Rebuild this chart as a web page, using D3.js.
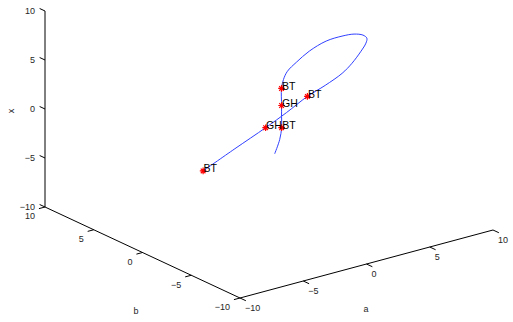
<!DOCTYPE html>
<html>
<head>
<meta charset="utf-8">
<script src="https://cdn.jsdelivr.net/npm/d3@7"></script>
<style>
  html, body { margin: 0; padding: 0; background: #fff; }
  svg { display: block; font-family: "Liberation Sans", Arial, Helvetica, sans-serif; }
</style>
</head>
<body>
<svg id="chart" width="513" height="322"></svg>
<script>
// ---- data (a, b, x coordinates of the continuation curve) ----
const curveA = [2.76, 2.77, 2.54, 2.38, 2.15, 1.76, 1.61, 1.61, 1.78, 2.26, 2.98, 3.77, 4.41, 4.96, 5.27, 5.35, 5.27, 5.02, 4.70, 4.06, 3.42, 2.54, 1.66, 0.39, -0.97];
const curveB = [3.0, 2.5, 2.0, 1.8, 1.5, 1.0, 0.6, 0.2, -0.5, -1.2, -2.0, -2.6, -3.0, -3.2, -3.2, -3.0, -2.6, -2.0, -1.4, -0.5, 0.5, 1.5, 2.5, 4.0, 5.5];
const curveX = [-5.75, -4.08, -2.54, -1.26, 0.09, 2.20, 3.36, 4.37, 5.56, 6.85, 8.00, 8.51, 8.68, 8.48, 8.06, 7.43, 6.45, 5.03, 3.83, 2.41, 1.04, -0.77, -2.47, -4.87, -7.36];

// special points
const specialLabels = ["BT", "GH", "BT", "BT", "GH", "BT"];
const specialA = [2.54, 2.15, 1.76, 3.42, 1.66, -0.97];
const specialB = [2.0, 1.5, 1.0, 0.5, 2.5, 5.5];
const specialX = [-2.54, 0.09, 2.20, 1.04, -2.47, -7.36];

// axis ticks
const aTicks = [-10, -5, 0, 5, 10];
const bTicks = [-10, -5, 0, 5, 10];
const xTicks = [-10, -5, 0, 5, 10];
const tickLabel = v => v < 0 ? "\u2212" + Math.abs(v) : String(v);

// ---- projection (orthographic view of the axes box) ----
const O = [45, 207];        // screen point of (a=-10, b=10, x=-10)
const VA = [253, -68];      // screen vector for full a range
const VB = [195, 91];       // screen vector for full b range (10 -> -10)
const VX = [0, -196];       // screen vector for full x range

const sa = d3.scaleLinear().domain([-10, 10]).range([0, 1]);
const sb = d3.scaleLinear().domain([10, -10]).range([0, 1]);
const sx = d3.scaleLinear().domain([-10, 10]).range([0, 1]);

function proj(a, b, x) {
  const u = sa(a), v = sb(b), w = sx(x);
  return [O[0] + u * VA[0] + v * VB[0] + w * VX[0],
          O[1] + u * VA[1] + v * VB[1] + w * VX[1]];
}

const svg = d3.select("#chart");
const axisColor = "#000";
const textColor = "#262626";

// ---- axes ----
const ag = svg.append("g").attr("stroke", axisColor).attr("stroke-width", 1).attr("fill", "none");
function seg(p, q) {
  ag.append("line").attr("x1", p[0]).attr("y1", p[1]).attr("x2", q[0]).attr("y2", q[1]);
}
// x (vertical) axis at a=-10, b=10
seg(proj(-10, 10, -10), proj(-10, 10, 10));
// b axis at a=-10, x=-10
seg(proj(-10, 10, -10), proj(-10, -10, -10));
// a axis at b=-10, x=-10
seg(proj(-10, -10, -10), proj(10, -10, -10));

// ticks
xTicks.forEach(t => seg(proj(-10, 10, t), proj(-10, 10.55, t)));
bTicks.forEach(t => seg(proj(-10, t, -10), proj(-10.48, t, -10)));
aTicks.forEach(t => seg(proj(t, -10, -10), proj(t, -10.6, -10)));

// tick labels
const tg = svg.append("g").attr("fill", textColor).attr("font-size", "9px");
xTicks.forEach(t => {
  const p = proj(-10, 10, t);
  tg.append("text").attr("x", p[0] - 10).attr("y", p[1] + 0.5)
    .attr("text-anchor", "end").attr("dominant-baseline", "middle").text(tickLabel(t));
});
bTicks.forEach(t => {
  const p = proj(-10, t, -10);
  tg.append("text").attr("x", p[0] - 10).attr("y", p[1] + 10)
    .attr("text-anchor", "end").attr("dominant-baseline", "middle").text(tickLabel(t));
});
aTicks.forEach(t => {
  const p = proj(t, -10, -10);
  tg.append("text").attr("x", p[0] + 5).attr("y", p[1] + 11)
    .attr("text-anchor", "start").attr("dominant-baseline", "middle").text(tickLabel(t));
});

// axis titles
tg.append("text").attr("transform", "translate(12,111) rotate(-90)")
  .attr("text-anchor", "middle").attr("dominant-baseline", "middle").text("x");
tg.append("text").attr("x", 136).attr("y", 312)
  .attr("text-anchor", "middle").attr("dominant-baseline", "middle").text("b");
tg.append("text").attr("x", 366).attr("y", 310)
  .attr("text-anchor", "middle").attr("dominant-baseline", "middle").text("a");

// ---- curve ----
const pts = curveA.map((a, i) => proj(a, curveB[i], curveX[i]));
const line = d3.line().curve(d3.curveCatmullRom.alpha(0.5));
svg.append("path").attr("d", line(pts))
  .attr("fill", "none").attr("stroke", "#3040ff").attr("stroke-width", 1);

// ---- special points ----
const r = 3.3, d = r * Math.SQRT1_2;
const star = `M${-r},0L${r},0M0,${-r}L0,${r}M${-d},${-d}L${d},${d}M${-d},${d}L${d},${-d}`;
const sg = svg.append("g");
specialLabels.forEach((lab, i) => {
  const p = proj(specialA[i], specialB[i], specialX[i]);
  sg.append("path").attr("d", star).attr("transform", `translate(${p[0]},${p[1]})`)
    .attr("stroke", "#ff0000").attr("stroke-width", 1.2).attr("fill", "none");
});
specialLabels.forEach((lab, i) => {
  const p = proj(specialA[i], specialB[i], specialX[i]);
  sg.append("text").attr("x", p[0] + 0.5).attr("y", p[1] + 1.5)
    .attr("font-size", "10.5px").attr("fill", "#000").text(lab);
});
</script>
</body>
</html>
